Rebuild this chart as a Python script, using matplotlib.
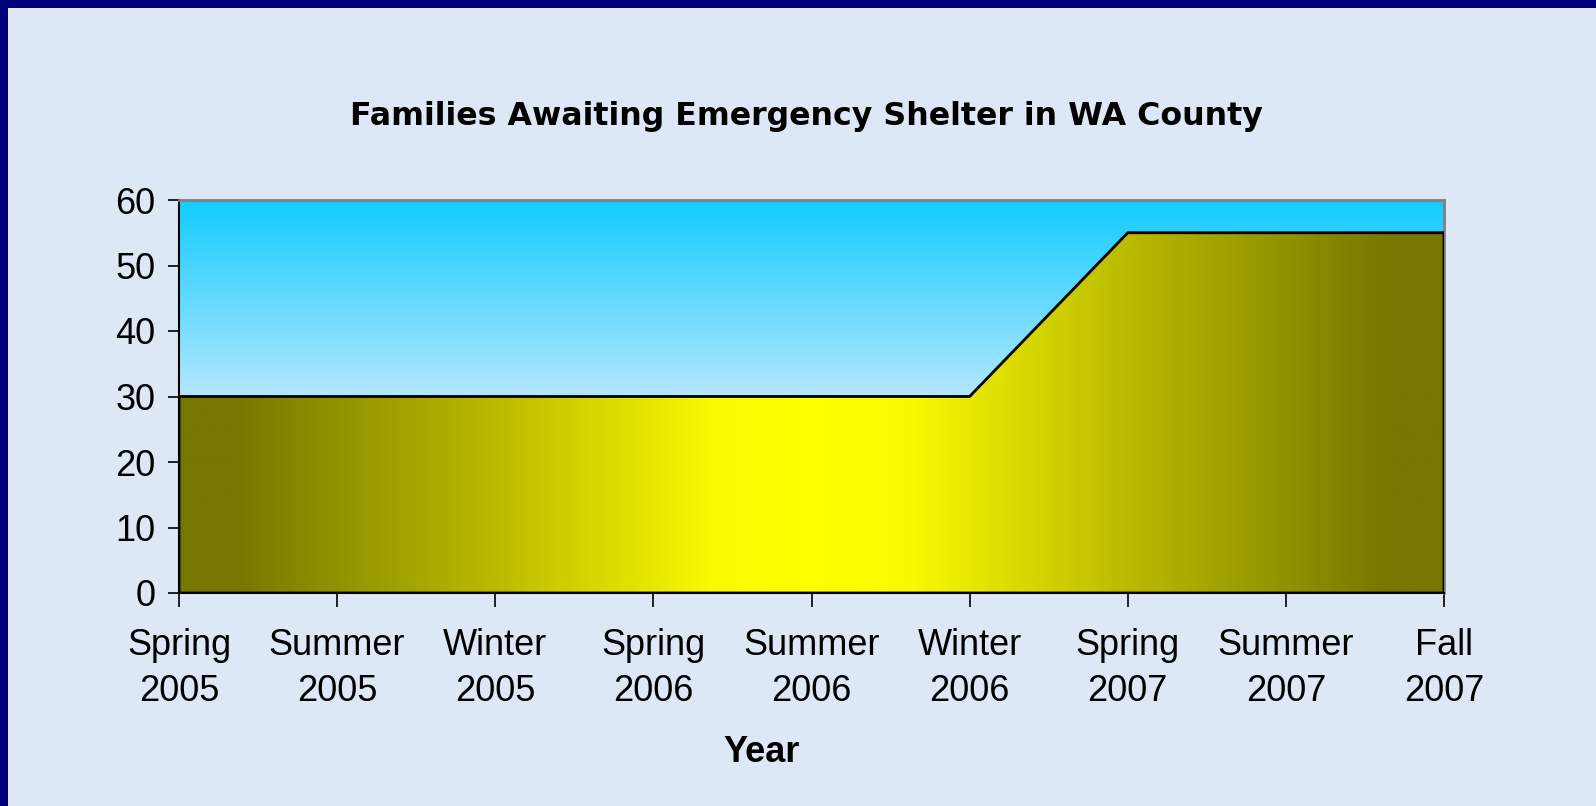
import numpy as np
import matplotlib
matplotlib.use('Agg')
import matplotlib.pyplot as plt
from matplotlib.patches import Rectangle
from matplotlib.colors import LinearSegmentedColormap

# Data
seasons = ['Spring\n2005', 'Summer\n2005', 'Winter\n2005', 'Spring\n2006', 'Summer\n2006',
           'Winter\n2006', 'Spring\n2007', 'Summer\n2007', 'Fall\n2007']
families = [30, 30, 30, 30, 30, 30, 55, 55, 55]
y_ticks = [0, 10, 20, 30, 40, 50, 60]

W, H = 1596, 806
fig = plt.figure(figsize=(W / 100, H / 100), dpi=100)
fig.patch.set_facecolor('#00007a')
# light slide background inside the navy frame
fig.patches.append(Rectangle((8 / W, 0), 1, 1 - 8 / H, transform=fig.transFigure,
                             facecolor='#dde7f5', edgecolor='none', zorder=-10))

ax = fig.add_axes([179 / W, 1 - 593 / H, (1444 - 179) / W, (593 - 200) / H])
x = np.arange(len(families))
ax.set_xlim(0, len(families) - 1)
ax.set_ylim(0, 60)

# sky gradient behind the area (cyan at top, pale at 30)
yy = np.linspace(60, 0, 300)
sky = np.clip((60 - yy) / 30, 0, 1)[:, None]
sky_cmap = LinearSegmentedColormap.from_list('sky', ['#12ccff', '#b4e7ff'])
ax.imshow(sky, cmap=sky_cmap, aspect='auto', extent=(0, 8, 0, 60), zorder=0, vmin=0, vmax=1)

# area with horizontal olive-yellow-olive gradient, brightest in the middle
poly = ax.fill_between(x, families, 0, facecolor='none', edgecolor='black', linewidth=2, zorder=3)
xx = np.linspace(0, 1, 800)
half = 0.5 - np.abs(xx - 0.5)
band = np.interp(half, [0, 0.04, 0.25, 0.42, 0.5], [0, 0, 0.5, 0.95, 1])[None, :]
area_cmap = LinearSegmentedColormap.from_list('olive', ['#767600', '#ffff00'])
img = ax.imshow(band, cmap=area_cmap, aspect='auto', extent=(0, 8, 0, 60), zorder=2, vmin=0, vmax=1)
img.set_clip_path(poly.get_paths()[0], transform=ax.transData)

ax.set_xticks(x)
ax.set_xticklabels(seasons, fontsize=26, family='Liberation Sans', linespacing=1.4)
ax.set_yticks(y_ticks)
ax.set_yticklabels([str(v) for v in y_ticks], fontsize=26, family='Liberation Sans')
ax.tick_params(axis='y', length=8, width=1.2, pad=9, direction='out')
ax.tick_params(axis='x', length=10, width=1.2, pad=15, direction='out')

for s in ['top', 'right']:
    ax.spines[s].set_color('#808080')
    ax.spines[s].set_linewidth(2)
for s in ['left', 'bottom']:
    ax.spines[s].set_color('black')
    ax.spines[s].set_linewidth(1.5)

fig.text(806 / W, 1 - 116 / H, 'Families Awaiting Emergency Shelter in WA County',
         ha='center', va='center', fontsize=22.8, fontweight='bold', family='DejaVu Sans')
fig.text(762 / W, 1 - 753 / H, 'Year', ha='center', va='center', fontsize=26,
         fontweight='bold', family='Liberation Sans')

fig.savefig('out.png', dpi=100, facecolor=fig.get_facecolor())
plt.close()
